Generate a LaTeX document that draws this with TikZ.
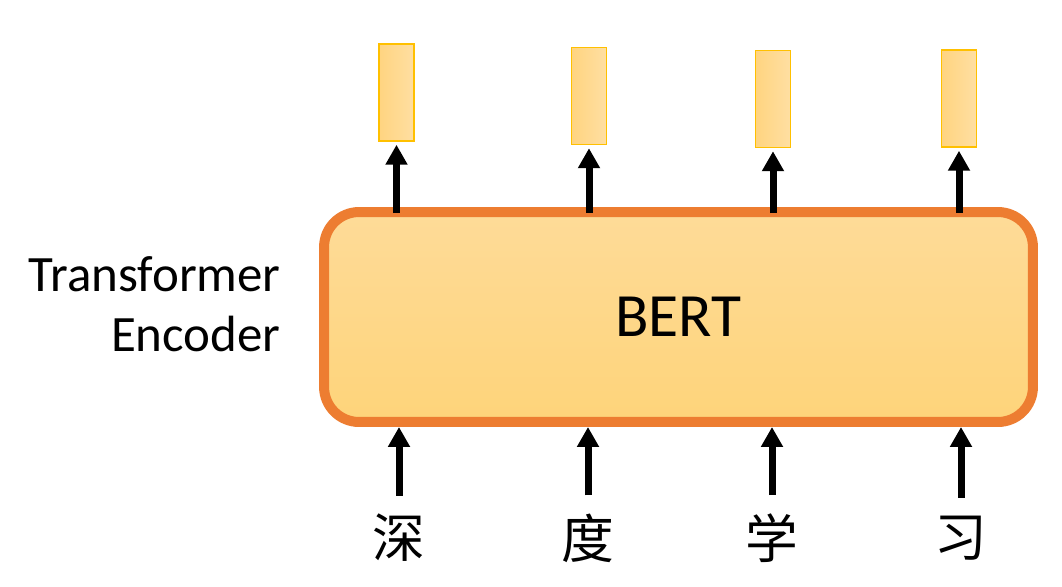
\documentclass[tikz,border=0pt]{standalone}
\usepackage{fontspec}
\setmainfont{Carlito}
\newfontfamily\cjk{Noto Sans CJK SC}
\usetikzlibrary{arrows.meta,positioning}
\definecolor{bertedge}{RGB}{237,125,49}
\definecolor{berttop}{RGB}{254,219,152}
\definecolor{bertbot}{RGB}{254,212,122}
\definecolor{vecedge}{RGB}{255,192,0}
\definecolor{vecleft}{RGB}{255,212,128}
\definecolor{vecright}{RGB}{255,223,162}

\begin{document}
\begin{tikzpicture}[x=0.02cm,y=-0.02cm,
    encoder/.style={draw=bertedge, line width=0.2cm, rounded corners=0.7cm,
        top color=berttop, bottom color=bertbot, minimum width=14.18cm,
        minimum height=4.2cm, inner sep=0pt, font=\fontsize{35}{42}\selectfont},
    vec/.style={draw=vecedge, line width=0.85pt, left color=vecleft,
        right color=vecright, minimum width=0.7cm, minimum height=1.94cm, inner sep=0pt},
    word/.style={font=\cjk\fontsize{30}{36}\selectfont, inner sep=0pt},
    arr/.style={line width=0.14cm, -{Triangle[length=0.4cm,width=0.42cm]}}]

\useasboundingbox (0,0) rectangle (1062,586);

\node[encoder] (bert) at (678.5,317) {BERT};
\node[anchor=east, align=right, inner sep=0pt, font=\fontsize{29}{34}\selectfont]
    (label) at (281,304) {Transformer\\Encoder};

% output vectors
\node[vec] (v1) at (396.5,92.5) {};
\node[vec] (v2) at (589,96)     {};
\node[vec] (v3) at (773,99)     {};
\node[vec] (v4) at (959,98.5)   {};

% input tokens
\foreach \x/\w [count=\i] in {399/深, 588/度, 772/学, 961/习}
    \node[word] (w\i) at (\x,538) {\w};

\foreach \i in {1,...,4} {
    \draw[arr, shorten <=-0.12cm, shorten >=0.06cm] (bert.north -| v\i) -- (v\i.south);
    \draw[arr, shorten <=0.36cm] (w\i.north) -- (w\i.north |- bert.south);
}
\end{tikzpicture}
\end{document}
